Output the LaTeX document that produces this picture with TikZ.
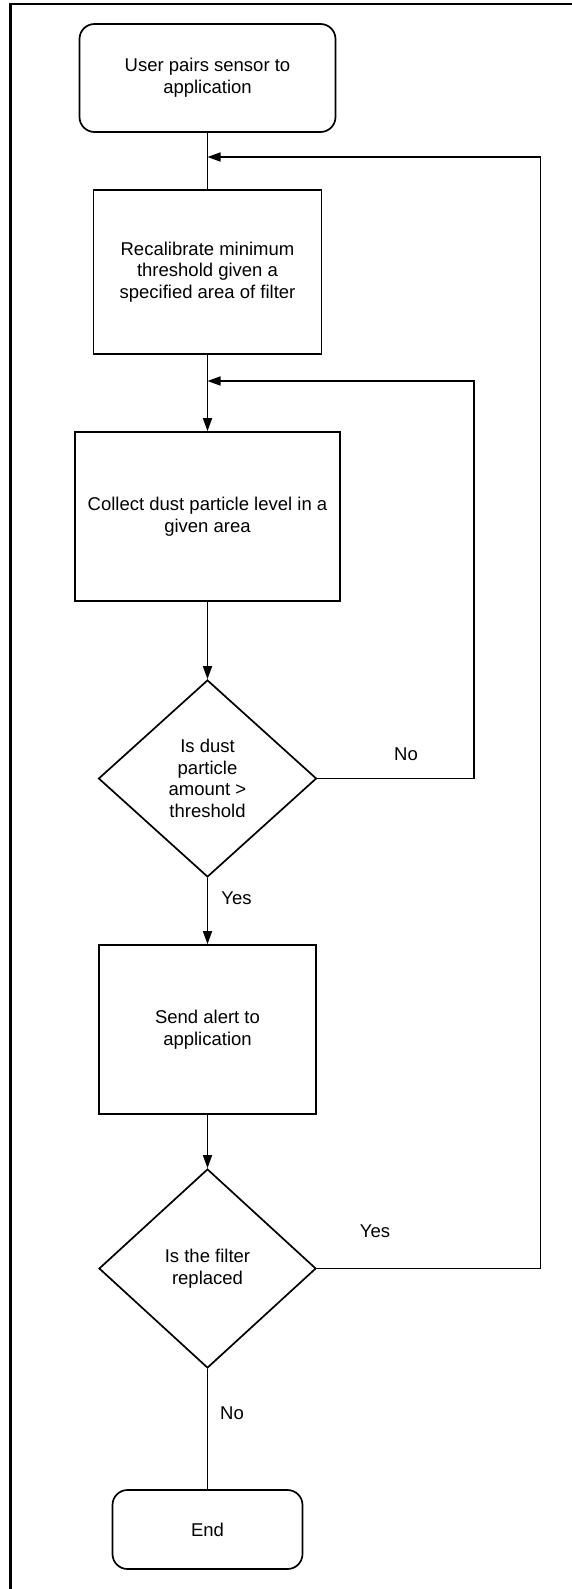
\documentclass[tikz,border=0pt]{standalone}
\usepackage{fontspec}
\setmainfont{Liberation Sans}
\usetikzlibrary{shapes.geometric,arrows.meta}
\tikzset{
  base/.style={draw=black, line width=1.7pt, align=center, inner sep=0pt,
    font=\fontsize{18.5}{21.7}\selectfont},
  term/.style={base, rectangle, rounded corners=15pt},
  procbox/.style={base, rectangle},
  decision/.style={base, diamond, aspect=1.1},
  conn/.style={line width=1.7pt},
  arr/.style={conn, -{Triangle[length=13pt,width=9pt]}},
  lbl/.style={font=\fontsize{18.5}{21.7}\selectfont, inner sep=0pt}
}
\begin{document}
\begin{tikzpicture}[x=1pt,y=-1pt]
\useasboundingbox (0,0) rectangle (572,1589);
% frame
\draw[line width=2.2pt] (10.5,1589) -- (10.5,4) -- (572,4);
% nodes
\node[term, minimum width=256pt, minimum height=108pt] (start) at (207.5,78) {User pairs sensor to\\application};
\node[procbox, minimum width=228pt, minimum height=164pt] (recal) at (207.5,272) {Recalibrate minimum\\threshold given a\\specified area of filter};
\node[procbox, minimum width=265pt, minimum height=169pt] (collect) at (207.5,516.5) {Collect dust particle level in a\\given area};
\node[decision, minimum width=218pt, minimum height=197pt] (dec1) at (207.5,778.5) {Is dust\\particle\\amount >\\threshold};
\node[procbox, minimum width=217pt, minimum height=169pt] (alert) at (207.5,1029.5) {Send alert to\\application};
\node[decision, minimum width=217pt, minimum height=199pt] (dec2) at (207.5,1268.5) {Is the filter\\replaced};
\node[term, minimum width=190pt, minimum height=79pt] (end) at (207.5,1529.5) {End};
% junction points
\coordinate (j1) at (207.5,381);
\coordinate (j2) at (207.5,157);
\coordinate (c1) at (474,381);
\coordinate (c2) at (540.5,157);
% connectors
\draw[conn] (start) -- (recal);
\draw[arr] (recal) -- (collect);
\draw[arr] (collect) -- (dec1);
\draw[arr] (dec1) -- (alert);
\draw[arr] (alert) -- (dec2);
\draw[conn] (dec2) -- (end);
\draw[arr] (dec1.east) -| (c1) -- (j1);
\draw[arr] (dec2.east) -| (c2) -- (j2);
% labels
\node[lbl] (lno1) at (406,754) {No};
\node[lbl] (lyes1) at (236.5,898) {Yes};
\node[lbl] (lyes2) at (375,1231) {Yes};
\node[lbl] (lno2) at (232,1413) {No};
\end{tikzpicture}
\end{document}
